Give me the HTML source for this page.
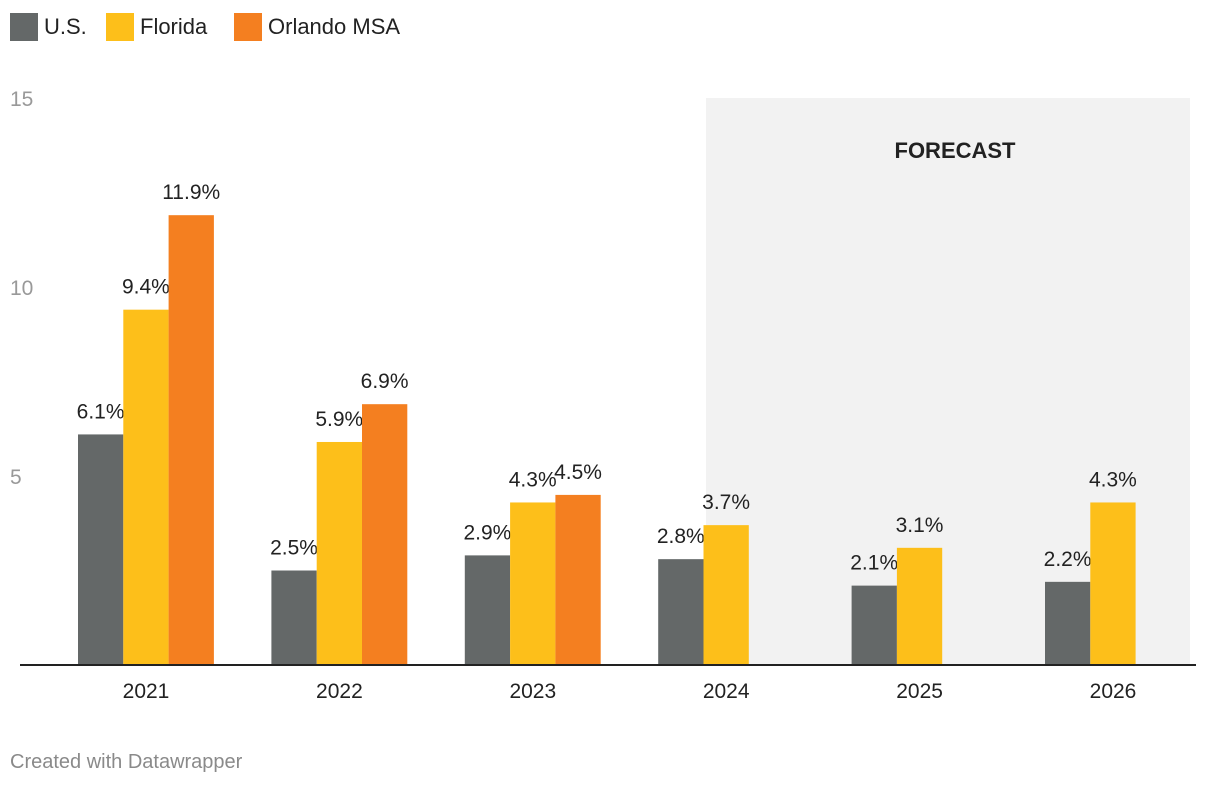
<!DOCTYPE html>
<html><head><meta charset="utf-8"><style>
body{margin:0;background:#fff;width:1220px;height:788px;overflow:hidden;font-family:"Liberation Sans",sans-serif}
.leg{position:absolute;top:12px;height:30px;display:flex;align-items:center;font-size:22px;color:#222}
.sw{width:28px;height:28px;margin-right:6px}
</style></head><body>
<div class="leg" style="left:10px"><div class="sw" style="background:#646868"></div>U.S.</div>
<div class="leg" style="left:106px"><div class="sw" style="background:#fdbf1a"></div>Florida</div>
<div class="leg" style="left:234px"><div class="sw" style="background:#f47f20"></div>Orlando MSA</div>
<svg id="c" width="1220" height="788" style="position:absolute;left:0;top:0"></svg>
<div style="position:absolute;left:10px;top:751px;font-size:20px;color:#8a8a8a">Created with Datawrapper</div>
<script>
const years=["2021","2022","2023","2024","2025","2026"];
const us=[6.1,2.5,2.9,2.8,2.1,2.2];
const fl=[9.4,5.9,4.3,3.7,3.1,4.3];
const orl=[11.9,6.9,4.5,null,null,null];
const yTicks=[5,10,15];
const svg=document.getElementById('c');
const NS='http://www.w3.org/2000/svg';
const y=v=>665-v*37.8;
const xc=i=>146+i*193.4;
function mk(t,a,txt){const e=document.createElementNS(NS,t);for(const k in a)e.setAttribute(k,a[k]);if(txt!=null)e.textContent=txt;svg.appendChild(e);return e;}
let r=mk('rect',{x:706,y:98,width:484,height:567,fill:'#f2f2f2'});


let ft=mk('text',{x:955,y:158,'text-anchor':'middle','font-size':22,'font-weight':'bold',fill:'#222'},'FORECAST');


yTicks.forEach(t=>{const e=mk('text',{x:10,y:y(t)+8,'font-size':21,fill:'#999'},String(t));

});
const series=[[us,'#646868','us'],[fl,'#fdbf1a','florida'],[orl,'#f47f20','orlando']];
years.forEach((yr,i)=>{
 series.forEach(([d,col,nm],j)=>{
  const v=d[i]; if(v==null)return;
  const x=xc(i)-68+j*45.3;
  const b=mk('rect',{x:x,y:y(v),width:45.3,height:665-y(v),fill:col});
  
  
  const l=mk('text',{x:x+22.6,y:y(v)-16,'text-anchor':'middle','font-size':21,fill:'#222'},v.toFixed(1)+'%');
  
  
 });
 const xl=mk('text',{x:xc(i),y:698,'text-anchor':'middle','font-size':21,fill:'#222'},yr);
 
 
});
const ax=mk('line',{x1:20,x2:1196,y1:665,y2:665,stroke:'#222','stroke-width':2});


</script>
</body></html>
